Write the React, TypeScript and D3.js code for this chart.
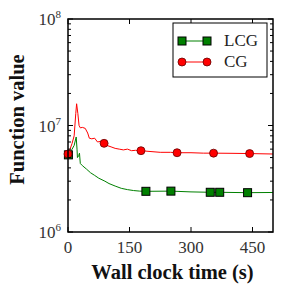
import { useEffect, useRef } from "react";
import * as d3 from "d3";

const W = 282;
const H = 291;
const MARGIN = { top: 19, right: 9, bottom: 59, left: 68 };

// CG trace (seconds, function value)
const cgTime = [0, 5, 10, 15, 19, 21, 24, 27, 30, 35, 42, 48, 52, 58, 65, 72, 80, 88, 95, 105, 115, 125, 135, 145, 155, 165, 178, 200, 225, 250, 266, 300, 330, 355, 400, 443, 500];
const cgValue = [5.4e6, 6.0e6, 6.8e6, 8.0e6, 1.3e7, 1.6e7, 1.3e7, 1.0e7, 9.5e6, 9.6e6, 9.4e6, 8.5e6, 7.6e6, 7.5e6, 7.6e6, 7.0e6, 7.1e6, 6.8e6, 6.5e6, 6.3e6, 6.1e6, 6.0e6, 5.9e6, 6.0e6, 5.8e6, 5.85e6, 5.8e6, 5.7e6, 5.6e6, 5.6e6, 5.55e6, 5.55e6, 5.5e6, 5.5e6, 5.48e6, 5.45e6, 5.4e6];
const cgMarkerTime = [0, 88, 178, 266, 355, 443];
const cgMarkerValue = [5.4e6, 6.8e6, 5.8e6, 5.55e6, 5.5e6, 5.45e6];

// LCG trace
const lcgTime = [0, 5, 10, 15, 20, 22, 23, 26, 28, 30, 35, 45, 55, 65, 75, 90, 100, 115, 130, 145, 160, 175, 190, 251, 300, 347, 370, 438, 500];
const lcgValue = [5.3e6, 5.6e6, 6.0e6, 6.5e6, 7.8e6, 6.0e6, 5.0e6, 5.2e6, 5.5e6, 4.4e6, 4.2e6, 3.9e6, 3.6e6, 3.4e6, 3.2e6, 3.0e6, 2.85e6, 2.7e6, 2.57e6, 2.5e6, 2.45e6, 2.42e6, 2.41e6, 2.42e6, 2.38e6, 2.36e6, 2.36e6, 2.34e6, 2.35e6];
const lcgMarkerTime = [1, 190, 251, 347, 370, 438];
const lcgMarkerValue = [5.3e6, 2.41e6, 2.42e6, 2.36e6, 2.36e6, 2.34e6];

const xTicks = [0, 150, 300, 450];
const yDecades = [1e6, 1e7, 1e8];
const yExps = ["6", "7", "8"];

const RED = "#ff0000";
const GREEN = "#008000";
const SERIF = "'Liberation Serif', 'DejaVu Serif', serif";

export default function App() {
  const gRef = useRef<SVGGElement>(null);

  useEffect(() => {
    if (!gRef.current) return;
    const g = d3.select(gRef.current);
    g.selectAll("*").remove();

    const iw = W - MARGIN.left - MARGIN.right;
    const ih = H - MARGIN.top - MARGIN.bottom;

    const x = d3.scaleLinear().domain([0, 500]).range([0, iw]);
    const y = d3.scaleLog().domain([1e6, 1e8]).range([ih, 0]);

    const line = d3
      .line<[number, number]>()
      .x((d) => x(d[0]))
      .y((d) => y(d[1]));

    // LCG
    g.append("path")
      .datum(lcgTime.map((t, i) => [t, lcgValue[i]] as [number, number]))
      .attr("fill", "none")
      .attr("stroke", GREEN)
      .attr("stroke-width", 1)
      .attr("d", line);
    g.selectAll("rect.lcg")
      .data(lcgMarkerTime.map((t, i) => [t, lcgMarkerValue[i]]))
      .join("rect")
      .attr("class", "lcg")
      .attr("x", (d) => x(d[0]) - 4)
      .attr("y", (d) => y(d[1]) - 4)
      .attr("width", 8)
      .attr("height", 8)
      .attr("fill", GREEN)
      .attr("stroke", "#000")
      .attr("stroke-width", 1);

    // CG
    g.append("path")
      .datum(cgTime.map((t, i) => [t, cgValue[i]] as [number, number]))
      .attr("fill", "none")
      .attr("stroke", RED)
      .attr("stroke-width", 1)
      .attr("d", line);
    g.selectAll("circle.cg")
      .data(cgMarkerTime.map((t, i) => [t, cgMarkerValue[i]]))
      .join("circle")
      .attr("class", "cg")
      .attr("cx", (d) => x(d[0]))
      .attr("cy", (d) => y(d[1]))
      .attr("r", 4)
      .attr("fill", RED)
      .attr("stroke", "#600")
      .attr("stroke-width", 0.8);

    // ticks (inward, all four sides)
    const minor: number[] = [];
    for (let e = 6; e < 8; e++) for (let k = 2; k < 10; k++) minor.push(k * Math.pow(10, e));

    const tick = (x1: number, y1: number, x2: number, y2: number) =>
      g.append("line").attr("x1", x1).attr("y1", y1).attr("x2", x2).attr("y2", y2)
        .attr("stroke", "#000").attr("stroke-width", 1);

    xTicks.forEach((t) => {
      tick(x(t), ih, x(t), ih - 5);
      tick(x(t), 0, x(t), 5);
    });
    yDecades.forEach((v) => {
      tick(0, y(v), 5, y(v));
      tick(iw, y(v), iw - 5, y(v));
    });
    minor.forEach((v) => {
      tick(0, y(v), 3, y(v));
      tick(iw, y(v), iw - 3, y(v));
    });

    g.append("rect")
      .attr("width", iw)
      .attr("height", ih)
      .attr("fill", "none")
      .attr("stroke", "#000")
      .attr("stroke-width", 1.5);

    // tick labels
    g.selectAll("text.xt")
      .data(xTicks)
      .join("text")
      .attr("class", "xt")
      .attr("x", (d) => x(d))
      .attr("y", ih + 21)
      .attr("text-anchor", "middle")
      .attr("font-family", SERIF)
      .attr("font-size", 17)
      .attr("fill", "#333")
      .text((d) => String(d));

    yDecades.forEach((v, i) => {
      const t = g.append("text")
        .attr("x", -7)
        .attr("y", y(v) + 6)
        .attr("text-anchor", "end")
        .attr("font-family", SERIF)
        .attr("font-size", 17)
        .attr("fill", "#333");
      t.append("tspan").text("10");
      t.append("tspan").attr("dy", -7).attr("font-size", 11).text(yExps[i]);
    });

    // axis labels
    g.append("text")
      .attr("x", iw / 2 + 2)
      .attr("y", ih + 47)
      .attr("text-anchor", "middle")
      .attr("font-family", SERIF)
      .attr("font-weight", "bold")
      .attr("font-size", 20.5)
      .attr("fill", "#111")
      .text("Wall clock time (s)");

    g.append("text")
      .attr("transform", `translate(${-44},${ih / 2 - 6}) rotate(-90)`)
      .attr("text-anchor", "middle")
      .attr("font-family", SERIF)
      .attr("font-weight", "bold")
      .attr("font-size", 20.5)
      .attr("fill", "#111")
      .text("Function value");

    // legend
    const lg = g.append("g").attr("transform", `translate(${173 - MARGIN.left},${23 - MARGIN.top})`);
    lg.append("rect")
      .attr("width", 94)
      .attr("height", 54)
      .attr("fill", "#fff")
      .attr("stroke", "#000")
      .attr("stroke-width", 1);
    const rows = [
      { label: "LCG", color: GREEN, square: true, y: 18 },
      { label: "CG", color: RED, square: false, y: 39 },
    ];
    rows.forEach((r) => {
      lg.append("line").attr("x1", 9).attr("x2", 34).attr("y1", r.y).attr("y2", r.y)
        .attr("stroke", r.color).attr("stroke-width", 1);
      [9, 34].forEach((cx) => {
        if (r.square) {
          lg.append("rect").attr("x", cx - 4).attr("y", r.y - 4).attr("width", 8).attr("height", 8)
            .attr("fill", r.color).attr("stroke", "#000").attr("stroke-width", 1);
        } else {
          lg.append("circle").attr("cx", cx).attr("cy", r.y).attr("r", 4)
            .attr("fill", r.color).attr("stroke", "#600").attr("stroke-width", 0.8);
        }
      });
      lg.append("text")
        .attr("x", 51)
        .attr("y", r.y + 5)
        .attr("font-family", SERIF)
        .attr("font-size", 17)
        .attr("fill", "#222")
        .text(r.label);
    });
  }, []);

  return (
    <div style={{ position: "fixed", left: 0, top: 0, background: "#fff" }}>
      <svg width={W} height={H} style={{ display: "block" }}>
        <rect width={W} height={H} fill="#fff" />
        <g ref={gRef} transform={`translate(${MARGIN.left},${MARGIN.top})`} />
      </svg>
    </div>
  );
}
